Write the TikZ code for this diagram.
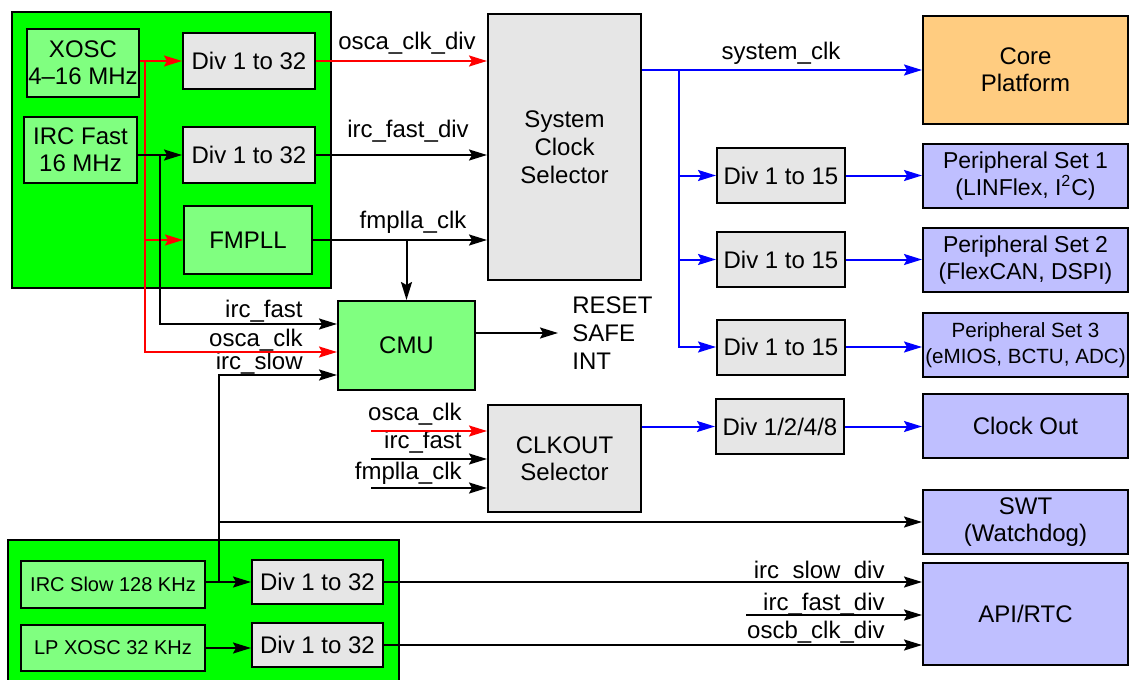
\documentclass[tikz,border=0pt]{standalone}
\usepackage{fontspec}
\setmainfont{Liberation Sans}
\usepackage{xcolor}
\usetikzlibrary{arrows.meta,positioning}
\definecolor{grpgreen}{HTML}{00FF00}
\definecolor{oscgreen}{HTML}{80FF80}
\definecolor{divgray}{HTML}{E6E6E6}
\definecolor{coreorange}{HTML}{FFCC80}
\definecolor{perblue}{HTML}{BFBFFF}

\begin{document}
\begin{tikzpicture}[x=0.5pt, y=-0.5pt, every node/.style={font=\fontsize{12}{13.5}\selectfont},
  box/.style={draw, line width=1pt, align=center, inner sep=0pt},
  osc/.style={box, fill=oscgreen}, div/.style={box, fill=divgray}, per/.style={box, fill=perblue},
  grp/.style={draw, line width=1pt, fill=grpgreen}, lbl/.style={inner sep=0pt},
  arr/.style={-{Stealth[length=9pt, width=5.5pt, inset=1.5pt]}, line width=1pt},
  rarr/.style={arr, red}, barr/.style={arr, blue}]
  \useasboundingbox (0,0) rectangle (1130,680);
  \draw[grp] (12,12) rectangle (331,288);
  \draw[grp] (8,540) rectangle (399,686);
  \node[osc, minimum width=56pt, minimum height=34pt] (xosc) at (83,63) {XOSC\\4--16 MHz};
  \node[osc, minimum width=56.5pt, minimum height=33pt] (ircf) at (80.5,150) {IRC Fast\\16 MHz};
  \node[div, minimum width=66pt, minimum height=28pt] (diva) at (249,61) {Div 1 to 32};
  \node[div, minimum width=66pt, minimum height=28pt] (divb) at (249,155) {Div 1 to 32};
  \node[osc, minimum width=64pt, minimum height=34pt] (pll) at (248,240) {FMPLL};
  \node[div, minimum width=76.5pt, minimum height=133pt, font=\fontsize{12}{14}\selectfont] (sel) at (564.5,147) {System\\Clock\\Selector};
  \node[osc, minimum width=68.5pt, minimum height=44.5pt] (cmu) at (406.5,345.5) {CMU};
  \node[anchor=west, align=left, inner xsep=7pt, inner ysep=0pt, font=\fontsize{12}{14}\selectfont] (rst) at (558,333) {RESET\\SAFE\\INT};
  \node[div, minimum width=76.5pt, minimum height=53.5pt] (ckout) at (564.5,458.5) {CLKOUT\\Selector};
  \node[box, fill=coreorange, minimum width=102.5pt, minimum height=54pt] (core) at (1025.5,70) {Core\\Platform};
  \node[div, minimum width=64pt, minimum height=27.5pt] (dfa) at (781,175.5) {Div 1 to 15};
  \node[div, minimum width=64pt, minimum height=27.5pt] (dfb) at (781,259.5) {Div 1 to 15};
  \node[div, minimum width=64pt, minimum height=27.5pt] (dfc) at (781,347) {Div 1 to 15};
  \node[per, minimum width=102.5pt, minimum height=32pt, font=\fontsize{11.5}{13.5}\selectfont] (pa) at (1025.5,176) {Peripheral Set 1\\(LINFlex, I\textsuperscript{2}C)};
  \node[per, minimum width=102.5pt, minimum height=32pt, font=\fontsize{11.5}{13.5}\selectfont] (pb) at (1025.5,260) {Peripheral Set 2\\(FlexCAN, DSPI)};
  \node[per, minimum width=102.5pt, minimum height=32pt, font=\fontsize{10.3}{13}\selectfont] (pc) at (1025.5,345) {Peripheral Set 3\\(eMIOS, BCTU, ADC)};
  \node[div, minimum width=64pt, minimum height=27.5pt] (dck) at (780,426.5) {Div 1/2/4/8};
  \node[per, minimum width=102.5pt, minimum height=32pt] (clk) at (1025.5,426) {Clock Out};
  \node[per, minimum width=102.5pt, minimum height=32pt] (swt) at (1025.5,522) {SWT\\(Watchdog)};
  \node[per, minimum width=102.5pt, minimum height=51pt] (rtc) at (1025.5,614) {API/RTC};
  \node[osc, minimum width=92pt, minimum height=23.5pt, font=\fontsize{10}{12}\selectfont] (ircs) at (113,584.5) {IRC Slow 128 KHz};
  \node[osc, minimum width=92pt, minimum height=23pt, font=\fontsize{10}{12}\selectfont] (lpx) at (113,648) {LP XOSC 32 KHz};
  \node[div, minimum width=65.5pt, minimum height=22pt] (dsa) at (317.5,582) {Div 1 to 32};
  \node[div, minimum width=65.5pt, minimum height=22pt] (dsb) at (317.5,645) {Div 1 to 32};
  \node[lbl, anchor=base] (loscdiv) at (407,49) {osca\_clk\_div};
  \node[lbl, anchor=base] (lfastdiv) at (408,137) {irc\_fast\_div};
  \node[lbl, anchor=base] (lpll) at (413,228) {fmplla\_clk};
  \node[lbl, anchor=base] (lsys) at (781,59) {system\_clk};
  \node[lbl, anchor=base east] (lcfast) at (303,317) {irc\_fast};
  \node[lbl, anchor=base east] (lcosc) at (303,346) {osca\_clk};
  \node[lbl, anchor=base east] (lcslow) at (303,369) {irc\_slow};
  \node[lbl, anchor=base east] (lkosc) at (462,420) {osca\_clk};
  \node[lbl, anchor=base east] (lkfast) at (462,448) {irc\_fast};
  \node[lbl, anchor=base east] (lkpll) at (462,479) {fmplla\_clk};
  \node[lbl, anchor=base east] (lrslow) at (885,578) {irc\_slow\_div};
  \node[lbl, anchor=base east] (lrfast) at (885,610) {irc\_fast\_div};
  \node[lbl, anchor=base east] (lroscb) at (885,638) {oscb\_clk\_div};
  \coordinate (rj) at (145,61);
  \coordinate (bj) at (160,155);
  \coordinate (sj) at (219,582);
  \coordinate (wj) at (219,522);
  \coordinate (kj) at (679,70);
  \coordinate (ca) at (371,431);
  \coordinate (cb) at (371,459);
  \coordinate (cc) at (371,488);
  \coordinate (fj) at (746,615);
  \draw[rarr] (xosc.east |- diva.west) -- (diva.west);
  \draw[rarr] (rj) |- (pll.west);
  \draw[rarr] (rj) |- ([yshift=-3.25pt]cmu.west);
  \draw[rarr] (diva.east) -- (diva.east -| sel.west);
  \draw[arr] (ircf.east |- divb.west) -- (divb.west);
  \draw[arr] (bj) |- ([yshift=10.75pt]cmu.west);
  \draw[arr] (divb.east) -- (divb.east -| sel.west);
  \draw[arr] (pll.east) -- (pll.east -| sel.west);
  \draw[arr] (pll.east -| cmu.north) -- (cmu.north);
  \draw[arr] (cmu.east |- rst.west) -- (rst.west);
  \draw[arr] (ircs.east |- dsa.west) -- (dsa.west);
  \draw[arr] (sj) |- ([yshift=-14.75pt]cmu.west);
  \draw[arr] (wj) -- (wj -| swt.west);
  \draw[arr] (lpx.east) -- (lpx.east -| dsb.west);
  \draw[arr] (dsa.east) -- (dsa.east -| rtc.west);
  \draw[arr] (fj) -- (fj -| rtc.west);
  \draw[arr] (dsb.east) -- (dsb.east -| rtc.west);
  \draw[rarr] (ca) -- (ca -| ckout.west);
  \draw[arr] (cb) -- (cb -| ckout.west);
  \draw[arr] (cc) -- (cc -| ckout.west);
  \draw[barr] (sel.east |- core.west) -- (core.west);
  \draw[barr] (kj) |- (dfa.west);
  \draw[barr] (kj) |- (dfb.west);
  \draw[barr] (kj) |- (dfc.west);
  \draw[barr] (dfa.east) -- (dfa.east -| pa.west);
  \draw[barr] (dfb.east) -- (dfb.east -| pb.west);
  \draw[barr] (dfc.east) -- (dfc.east -| pc.west);
  \draw[barr] (ckout.east |- dck.west) -- (dck.west);
  \draw[barr] (dck.east) -- (dck.east -| clk.west);
\end{tikzpicture}
\end{document}
